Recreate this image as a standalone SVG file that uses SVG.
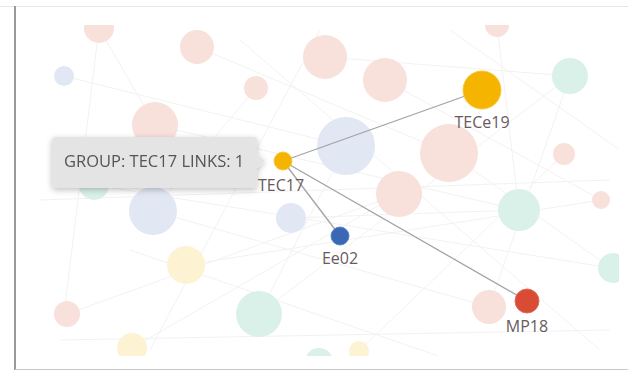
<svg xmlns="http://www.w3.org/2000/svg" width="628" height="373" viewBox="0 0 628 373">
<defs>
<clipPath id="area"><rect x="33" y="25" width="586" height="331"/></clipPath>
<filter id="sh" x="-10%" y="-20%" width="130%" height="160%"><feGaussianBlur in="SourceAlpha" stdDeviation="3"/><feOffset dx="0" dy="2"/><feComponentTransfer><feFuncA type="linear" slope="0.25"/></feComponentTransfer><feMerge><feMergeNode/><feMergeNode in="SourceGraphic"/></feMerge></filter>
</defs>
<style>
.bgl{stroke:#f2f2f2;stroke-width:1;fill:none}
.pk{fill:#f8e0db}
.bl{fill:#e1e7f3}
.mt{fill:#d9f1e8}
.yl{fill:#fdf2d2}
.edge{stroke:#a3a3a8;stroke-width:1.3;fill:none}
.lbl{font-family:"Open Sans","Noto Sans",sans-serif;font-size:16px;fill:#6a5a60;text-anchor:middle}
</style>
<rect x="0" y="0" width="628" height="373" fill="#ffffff"/>
<line x1="0" y1="6.5" x2="628" y2="6.5" stroke="#e6e6e6"/>
<line x1="15" y1="6" x2="15" y2="370" stroke="#9a9a9a" stroke-width="2"/>
<line x1="15" y1="369.5" x2="628" y2="369.5" stroke="#c8c8c8"/>
<g id="background" clip-path="url(#area)">
<g class="bgl">
<line x1="99" y1="28" x2="155" y2="125"/><line x1="99" y1="28" x2="64" y2="314"/>
<line x1="197" y1="47" x2="449" y2="153"/><line x1="64" y1="76" x2="346" y2="146"/>
<line x1="325" y1="57" x2="570" y2="76"/><line x1="385" y1="80" x2="601" y2="200"/>
<line x1="256" y1="88" x2="153" y2="211"/><line x1="155" y1="125" x2="519" y2="210"/>
<line x1="346" y1="146" x2="259" y2="314"/><line x1="449" y1="153" x2="611" y2="268"/>
<line x1="399" y1="194" x2="132" y2="348"/><line x1="570" y1="76" x2="489" y2="307"/>
<line x1="564" y1="154" x2="359" y2="351"/><line x1="94" y1="185" x2="611" y2="268"/>
<line x1="153" y1="211" x2="489" y2="307"/><line x1="291" y1="218" x2="519" y2="210"/>
<line x1="186" y1="265" x2="601" y2="200"/><line x1="67" y1="314" x2="399" y2="194"/>
<line x1="259" y1="314" x2="570" y2="76"/><line x1="497" y1="25" x2="519" y2="210"/>
<line x1="40" y1="200" x2="610" y2="180"/><line x1="60" y1="340" x2="610" y2="330"/>
<line x1="320" y1="30" x2="150" y2="350"/><line x1="450" y1="30" x2="620" y2="150"/>
<line x1="240" y1="40" x2="600" y2="350"/><line x1="130" y1="250" x2="450" y2="360"/>
</g>
<circle class="pk" cx="99" cy="28" r="15"/>
<circle class="pk" cx="197" cy="47" r="17"/>
<circle class="bl" cx="64" cy="76" r="10"/>
<circle class="pk" cx="325" cy="57" r="22"/>
<circle class="pk" cx="385" cy="80" r="22"/>
<circle class="pk" cx="256" cy="88" r="12"/>
<circle class="pk" cx="497" cy="25" r="12"/>
<circle class="pk" cx="155" cy="125" r="23"/>
<circle class="bl" cx="346" cy="146" r="29"/>
<circle class="pk" cx="449" cy="153" r="29"/>
<circle class="pk" cx="399" cy="194" r="23"/>
<circle class="mt" cx="570" cy="76" r="18"/>
<circle class="pk" cx="564" cy="154" r="11"/>
<circle class="mt" cx="94" cy="185" r="15"/>
<circle class="bl" cx="153" cy="211" r="24"/>
<circle class="bl" cx="291" cy="218" r="15"/>
<circle class="mt" cx="519" cy="210" r="21"/>
<circle class="pk" cx="601" cy="200" r="9"/>
<circle class="yl" cx="186" cy="265" r="19"/>
<circle class="mt" cx="613" cy="268" r="15"/>
<circle class="pk" cx="67" cy="314" r="13"/>
<circle class="mt" cx="259" cy="314" r="23"/>
<circle class="pk" cx="489" cy="307" r="17"/>
<circle class="yl" cx="132" cy="348" r="15"/>
<circle class="yl" cx="359" cy="351" r="10"/>
<circle class="mt" cx="319" cy="362" r="14"/>
</g>
<g id="connectors">
<line class="edge" x1="283" y1="161" x2="482" y2="90"/>
<line class="edge" x1="283" y1="161" x2="340" y2="236"/>
<line class="edge" x1="283" y1="161" x2="527" y2="301"/>
</g>
<g id="tooltip" filter="url(#sh)">
<path d="M56 137 H254 Q257 137 257 140 V154 L265 161 L257 168 V184 Q257 188 254 188 H56 Q52 188 52 184 V141 Q52 137 56 137 Z" fill="#e4e4e4"/>
<text x="64" y="167" font-family="'Open Sans','Noto Sans',sans-serif" font-size="16.5" fill="#555555">GROUP: TEC17 LINKS: 1</text>
</g>
<g id="node-TECe19">
<circle cx="482" cy="90" r="19" fill="#f4b400" stroke="#f7c842" stroke-width="1"/>
<text class="lbl" x="482" y="128">TECe19</text>
</g>
<g id="node-TEC17">
<circle cx="283" cy="161" r="9" fill="#f4b400" stroke="#f7c842" stroke-width="1"/>
<text class="lbl" x="281" y="191">TEC17</text>
</g>
<g id="node-Ee02">
<circle cx="340" cy="236" r="9" fill="#3b68b5" stroke="#5b82c4" stroke-width="1"/>
<text class="lbl" x="340" y="264">Ee02</text>
</g>
<g id="node-MP18">
<circle cx="527" cy="301" r="12" fill="#d94b35" stroke="#e36b58" stroke-width="1"/>
<text class="lbl" x="527" y="332">MP18</text>
</g>
</svg>
